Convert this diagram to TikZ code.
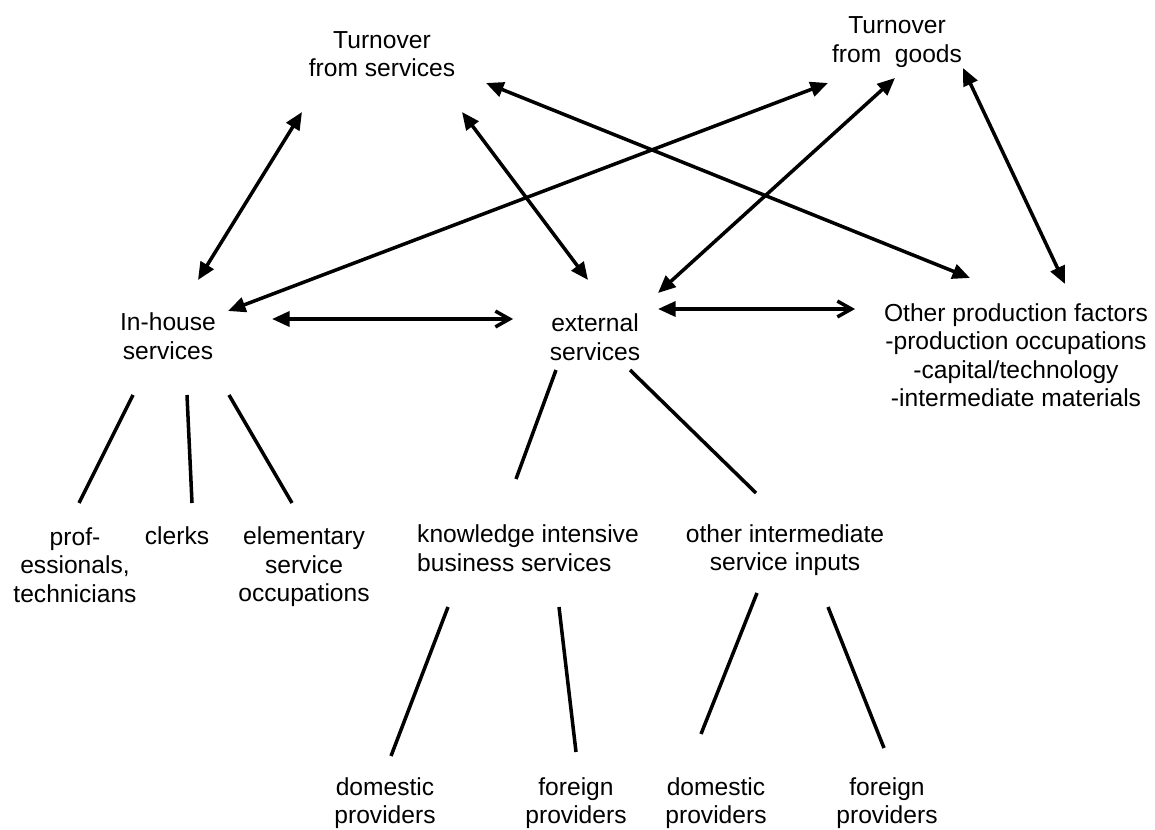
\documentclass[tikz,border=0pt]{standalone}
\usepackage{fontspec}
\setmainfont{Liberation Sans}
\usetikzlibrary{arrows.meta,calc}

\tikzset{
  lbl/.style={align=center, inner sep=0pt, font=\fontsize{14pt}{16.2pt}\selectfont},
  link/.style={line width=2pt,
    {Triangle[length=10pt,width=8.5pt]}-{Triangle[length=10pt,width=8.5pt]}},
  halflink/.style={line width=2pt,
    {Triangle[length=10pt,width=8.5pt]}-{Straight Barb[length=8pt,width=9pt]}},
  branch/.style={line width=2pt}
}

\begin{document}
\begin{tikzpicture}[x=0.02cm, y=-0.02cm]
\useasboundingbox (0,0) rectangle (1155,830);

% turnover
\path (382,54) node (turnserv) [lbl] {Turnover\\from services};
\path (897,42) node (turngoods) [lbl] {Turnover\\from\ \ goods};

% inputs
\path (168,336) node (inhouse) [lbl] {In-house\\services};
\path (595,337) node (external) [lbl] {external\\services};
\path (1016,355) node (otherfac) [lbl]
  {Other production factors\\-production occupations\\-capital/technology\\-intermediate materials};

% in-house occupations
\path (75,565) node (prof) [lbl] {prof-\\essionals,\\technicians};
\path (177,536) node (clerks) [lbl] {clerks};
\path (304,567) node (elem) [lbl] {elementary\\service\\occupations};

% external services
\path (528,548) node (kibs) [lbl, align=left] {knowledge intensive\\business services};
\path (785,550) node (otherinp) [lbl] {other intermediate\\service inputs};

% providers
\path (385,803) node (domkibs) [lbl] {domestic\\providers};
\path (576,803) node (forkibs) [lbl] {foreign\\providers};
\path (716,803) node (domoth) [lbl] {domestic\\providers};
\path (887,803) node (foroth) [lbl] {foreign\\providers};

% turnover links
\draw [link] ($(turnserv)+(-80,58)$) -- ($(inhouse)+(30,-56)$);
\draw [link] ($(turnserv)+(80,58)$) -- ($(external)+(-7,-57)$);
\draw [link] ($(turnserv)+(104,29)$) -- ($(otherfac)+(-46,-77)$);
\draw [link] ($(turngoods)+(-69,41)$) -- ($(inhouse)+(60,-25)$);
\draw [link] ($(turngoods)+(-2,36)$) -- ($(external)+(63,-44)$);
\draw [link] ($(turngoods)+(66,26)$) -- ($(otherfac)+(49,-71)$);

% substitution
\draw [halflink] ($(inhouse)+(104,-17)$) -- ($(external)+(-82,-18)$);
\draw [halflink] ($(external)+(63,-28)$) -- ($(otherfac)+(-161,-46)$);

% tree
\draw [branch] ($(inhouse)+(-35,59)$) -- ($(prof)+(4,-62)$);
\draw [branch] ($(inhouse)+(19,59)$) -- ($(clerks)+(15,-33)$);
\draw [branch] ($(inhouse)+(61,59)$) -- ($(elem)+(-12,-64)$);
\draw [branch] ($(external)+(-39,33)$) -- ($(kibs)+(-12,-69)$);
\draw [branch] ($(external)+(35,33)$) -- ($(otherinp)+(-29,-57)$);
\draw [branch] ($(kibs)+(-80,59)$) -- ($(domkibs)+(6,-47)$);
\draw [branch] ($(kibs)+(31,59)$) -- ($(forkibs)+(0,-51)$);
\draw [branch] ($(otherinp)+(-28,43)$) -- ($(domoth)+(-15,-69)$);
\draw [branch] ($(otherinp)+(43,57)$) -- ($(foroth)+(-3,-55)$);

\end{tikzpicture}
\end{document}
